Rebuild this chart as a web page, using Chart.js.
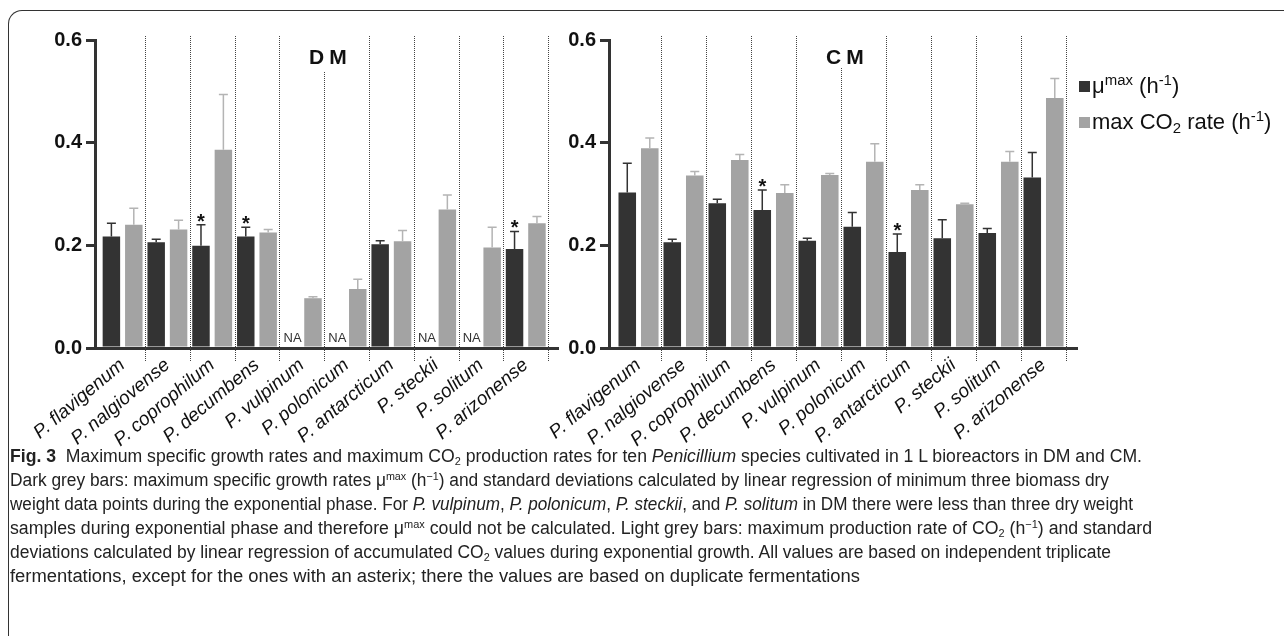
<!DOCTYPE html>
<html>
<head>
<meta charset="utf-8">
<title>Penicillium growth rates</title>
<script src="https://cdn.jsdelivr.net/npm/chart.js@4.4.1/dist/chart.umd.min.js"></script>
<style>
  html, body { margin: 0; padding: 0; background: #fff; }
  body { width: 1284px; height: 636px; position: relative; overflow: hidden; font-family: "Liberation Sans", Arial, sans-serif; color: #111; }
  .frame { position: absolute; left: 8px; top: 10px; width: 1300px; height: 700px; border-top: 1.5px solid #333; border-left: 1.5px solid #333; border-top-left-radius: 14px; }
  canvas { position: absolute; top: 0; }
  #dmChart { left: 0; }
  #cmChart { left: 514px; }
  .panel-label { position: absolute; top: 45px; font: bold 21px "Liberation Sans", Arial, sans-serif; letter-spacing: 5px; line-height: 24px; color: #111; }
  .legend-item { position: absolute; left: 1079px; font-size: 22px; line-height: 26px; color: #111; white-space: nowrap; }
  .legend-item .box { display: inline-block; width: 11px; height: 11px; margin-right: 2px; vertical-align: 1px; }
  .legend-item sup { font-size: 0.68em; vertical-align: 0.55em; line-height: 0; }
  .legend-item sub { font-size: 0.68em; vertical-align: -0.3em; line-height: 0; }
  .caption { position: absolute; left: 10px; top: 444px; font-family: "Liberation Sans Narrow", "Liberation Sans", Arial, sans-serif; font-size: 18px; line-height: 24px; color: #222; }
  .caption div { white-space: nowrap; width: max-content; transform-origin: left center; }
  .caption sup { font-size: 0.62em; vertical-align: 0.55em; line-height: 0; }
  .caption sub { font-size: 0.62em; vertical-align: -0.3em; line-height: 0; }
</style>
</head>
<body>
<div class="frame"></div>
<canvas id="dmChart" width="600" height="450"></canvas>
<canvas id="cmChart" width="600" height="450"></canvas>
<div class="panel-label" style="left:309px">DM</div>
<div class="panel-label" style="left:826px">CM</div>
<div class="legend-item" style="top:73px"><span class="box" style="background:#333"></span>μ<sup>max</sup> (h<sup>-1</sup>)</div>
<div class="legend-item" style="top:109px"><span class="box" style="background:#a3a3a3"></span>max CO<sub>2</sub> rate (h<sup>-1</sup>)</div>
<div class="caption">
  <div data-w="1132"><b>Fig. 3</b>&nbsp; Maximum specific growth rates and maximum CO<sub>2</sub> production rates for ten <i>Penicillium</i> species cultivated in 1 L bioreactors in DM and CM.</div>
  <div data-w="1099">Dark grey bars: maximum specific growth rates μ<sup>max</sup> (h<sup>−1</sup>) and standard deviations calculated by linear regression of minimum three biomass dry</div>
  <div data-w="1123">weight data points during the exponential phase. For <i>P. vulpinum</i>, <i>P. polonicum</i>, <i>P. steckii</i>, and <i>P. solitum</i> in DM there were less than three dry weight</div>
  <div data-w="1142">samples during exponential phase and therefore μ<sup>max</sup> could not be calculated. Light grey bars: maximum production rate of CO<sub>2</sub> (h<sup>−1</sup>) and standard</div>
  <div data-w="1101">deviations calculated by linear regression of accumulated CO<sub>2</sub> values during exponential growth. All values are based on independent triplicate</div>
  <div data-w="850">fermentations, except for the ones with an asterix; there the values are based on duplicate fermentations</div>
</div>
<script>
const species = ["P. flavigenum", "P. nalgiovense", "P. coprophilum", "P. decumbens", "P. vulpinum",
  "P. polonicum", "P. antarcticum", "P. steckii", "P. solitum", "P. arizonense"];
const yTicks = [0, 0.2, 0.4, 0.6];

// DM medium
const dmMu = [0.217, 0.206, 0.199, 0.217, null, null, 0.202, null, null, 0.193];
const dmMuSd = [0.026, 0.006, 0.041, 0.018, null, null, 0.007, null, null, 0.034];
const dmCo2 = [0.240, 0.231, 0.386, 0.225, 0.097, 0.115, 0.208, 0.270, 0.196, 0.243];
const dmCo2Sd = [0.032, 0.018, 0.108, 0.006, 0.003, 0.019, 0.021, 0.028, 0.039, 0.013];
const dmDuplicate = [2, 3, 9];

// CM medium
const cmMu = [0.303, 0.206, 0.282, 0.269, 0.209, 0.236, 0.187, 0.214, 0.224, 0.332];
const cmMuSd = [0.057, 0.006, 0.008, 0.039, 0.005, 0.028, 0.035, 0.036, 0.009, 0.049];
const cmCo2 = [0.389, 0.336, 0.366, 0.302, 0.337, 0.363, 0.308, 0.280, 0.363, 0.487];
const cmCo2Sd = [0.020, 0.008, 0.011, 0.016, 0.003, 0.035, 0.010, 0.002, 0.020, 0.038];
const cmDuplicate = [3, 6];

const darkGrey = "#333333";
const lightGrey = "#a3a3a3";

// dotted lines between species groups
const separatorPlugin = {
  id: "separators",
  beforeDatasetsDraw(chart, args, opts) {
    const x = chart.scales.x;
    const area = chart.chartArea;
    const ctx = chart.ctx;
    ctx.save();
    ctx.strokeStyle = "#444";
    ctx.lineWidth = 1;
    ctx.setLineDash([1, 1]);
    species.forEach((s, i) => {
      const px = Math.round(x.getPixelForValue(i + 0.5)) + 0.5;
      const top = i === 4 ? opts.labelTop : area.top - 4;
      ctx.beginPath();
      ctx.moveTo(px, top);
      ctx.lineTo(px, area.bottom + 14);
      ctx.stroke();
    });
    ctx.restore();
  },
};

// upper error bars, asterisks and NA marks
const errorBarPlugin = {
  id: "errorBars",
  afterDatasetsDraw(chart) {
    const ctx = chart.ctx;
    const x = chart.scales.x;
    const y = chart.scales.y;
    const area = chart.chartArea;
    const lightMeta = chart.getDatasetMeta(1);
    chart.data.datasets.forEach((ds, d) => {
      const meta = chart.getDatasetMeta(d);
      ctx.save();
      ctx.strokeStyle = ds.errorColor;
      ctx.lineWidth = 1.5;
      ds.data.forEach((pt, i) => {
        const bar = meta.data[i];
        if (pt.y == null) {
          if (d === 0) {
            const cx = 2 * x.getPixelForValue(i) - lightMeta.data[i].x;
            ctx.fillStyle = "#333";
            ctx.font = "13px 'Liberation Sans', Arial, sans-serif";
            ctx.textAlign = "center";
            ctx.textBaseline = "alphabetic";
            ctx.fillText("NA", cx + 2, area.bottom - 6);
          }
          return;
        }
        const top = y.getPixelForValue(pt.y + ds.sd[i]);
        ctx.beginPath();
        ctx.moveTo(bar.x, bar.y);
        ctx.lineTo(bar.x, top);
        ctx.moveTo(bar.x - 4.5, top);
        ctx.lineTo(bar.x + 4.5, top);
        ctx.stroke();
        if (ds.marks && ds.marks.includes(i)) {
          ctx.fillStyle = "#111";
          ctx.font = "bold 20px 'Liberation Sans', Arial, sans-serif";
          ctx.textAlign = "center";
          ctx.textBaseline = "alphabetic";
          ctx.fillText("*", bar.x, top + 3);
        }
      });
      ctx.restore();
    });
  },
};

function makeChart(id, mu, muSd, co2, co2Sd, dup, xMin, xMax, padRight, labelTop) {
  const ctx = document.getElementById(id).getContext("2d");
  return new Chart(ctx, {
    type: "bar",
    data: {
      datasets: [
        {
          label: "μmax (h-1)",
          data: mu.map((v, i) => ({ x: i, y: v })),
          sd: muSd,
          marks: dup,
          backgroundColor: darkGrey,
          errorColor: darkGrey,
          barPercentage: 0.78,
          categoryPercentage: 1,
        },
        {
          label: "max CO2 rate (h-1)",
          data: co2.map((v, i) => ({ x: i, y: v })),
          sd: co2Sd,
          backgroundColor: lightGrey,
          errorColor: "#b4b4b4",
          barPercentage: 0.78,
          categoryPercentage: 1,
        },
      ],
    },
    options: {
      responsive: false,
      animation: false,
      devicePixelRatio: 1,
      layout: { padding: { top: 40, right: padRight, left: 0, bottom: 0 } },
      plugins: {
        legend: { display: false },
        tooltip: { enabled: false },
        separators: { labelTop },
      },
      scales: {
        x: {
          type: "linear",
          min: xMin,
          max: xMax,
          offset: false,
          bounds: "data",
          grid: { display: false, drawTicks: false, offset: false },
          border: { display: true, color: "#333", width: 3 },
          afterBuildTicks: (s) => {
            s.ticks = species.map((_, i) => ({ value: i }));
          },
          afterFit: (s) => {
            s.height = 102;
          },
          ticks: {
            autoSkip: false,
            minRotation: 40,
            maxRotation: 40,
            padding: 6,
            color: "#111",
            font: { family: "'Liberation Sans', Arial, sans-serif", style: "italic", size: 19 },
            callback: (v) => species[v] ?? "",
          },
        },
        y: {
          min: 0,
          max: 0.6,
          afterBuildTicks: (s) => {
            s.ticks = yTicks.map((v) => ({ value: v }));
          },
          afterFit: (s) => {
            s.width = 95;
          },
          border: { display: true, color: "#333", width: 3 },
          grid: {
            display: true,
            drawOnChartArea: false,
            drawTicks: true,
            tickLength: 9,
            tickWidth: 3,
            lineWidth: 3,
            color: "#333",
            tickColor: "#333",
          },
          ticks: {
            padding: 4,
            color: "#111",
            font: { family: "'Liberation Sans', Arial, sans-serif", weight: "bold", size: 20 },
            callback: (v) => Number(v).toFixed(1),
          },
        },
      },
    },
    plugins: [separatorPlugin, errorBarPlugin],
  });
}

makeChart("dmChart", dmMu, dmMuSd, dmCo2, dmCo2Sd, dmDuplicate, -0.616, 9.72, 42, 72);
makeChart("cmChart", cmMu, cmMuSd, cmCo2, cmCo2Sd, cmDuplicate, -0.656, 9.744, 37, 68);

// squeeze each caption line to the width it has in the figure
document.querySelectorAll(".caption div").forEach((el) => {
  const target = Number(el.dataset.w);
  const w = el.getBoundingClientRect().width;
  if (w > 0) el.style.transform = `scaleX(${target / w})`;
});
</script>
</body>
</html>
